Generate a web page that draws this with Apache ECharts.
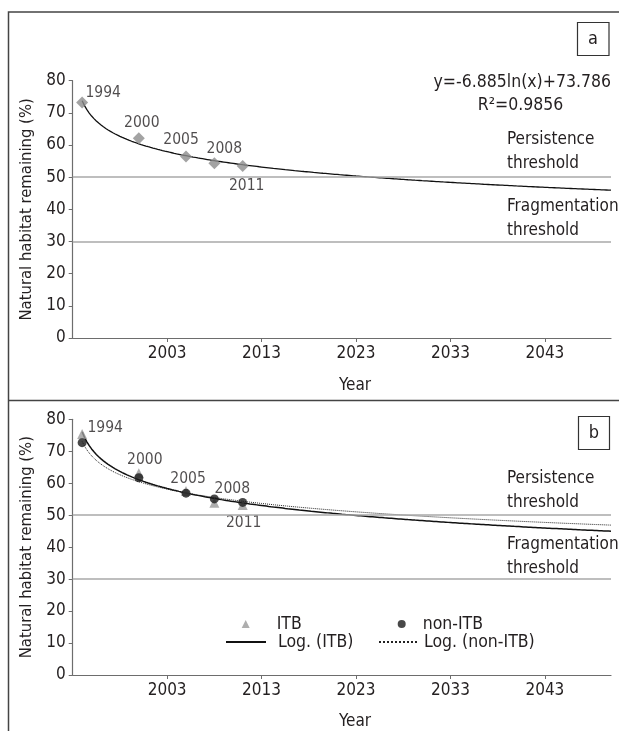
<!DOCTYPE html>
<html><head><meta charset="utf-8">
<script src="https://cdn.jsdelivr.net/npm/echarts@6/dist/echarts.min.js"></script>
<style>html,body{margin:0;padding:0;background:#fff}#c{width:619px;height:731px}</style>
</head><body><div id="c"></div>
<script>
// ---- data ----
const YEARS = [1994, 2000, 2005, 2008, 2011];
const TOTAL_A = [73.2, 62.1, 56.4, 54.3, 53.5];      // panel a
const ITB = [75.4, 63.1, 57.6, 53.9, 53.2];          // panel b, ITB
const NON_ITB = [72.7, 61.7, 56.9, 55.1, 54.0];      // panel b, non-ITB
const THRESHOLDS = [50, 30];
const X_TICKS = [2003, 2013, 2023, 2033, 2043];
const X_MIN = 1993, X_MAX = 2050;                    // trend x = year - X_MIN
const EQ_SLOPE = -6.885, EQ_INTERCEPT = 73.786, EQ_R2 = 0.9856;

// ---- label placement (style, not data) ----
const LABEL_OFF_A = [[21, -10], [3, -15], [-5, -17], [10, -14], [4, 20]];
const LABEL_OFF_B = [[23, -6], [6, -13], [2, -12], [18, -14], [1, 18]];

const FONT = '"DejaVu Sans Condensed","Liberation Sans Narrow",sans-serif';
const TXT = '#231f20';

function logFit(xs, ys) {
  const lx = xs.map(v => Math.log(v - X_MIN));
  const n = lx.length;
  const mx = lx.reduce((a, b) => a + b, 0) / n;
  const my = ys.reduce((a, b) => a + b, 0) / n;
  let sxy = 0, sxx = 0;
  for (let i = 0; i < n; i++) { sxy += (lx[i] - mx) * (ys[i] - my); sxx += (lx[i] - mx) ** 2; }
  const slope = sxy / sxx;
  return { slope, intercept: my - slope * mx };
}
function trendLine(fit) {
  const pts = [];
  for (let yr = YEARS[0]; yr <= X_MAX + 1e-9; yr += 0.25) {
    pts.push([yr, fit.intercept + fit.slope * Math.log(yr - X_MIN)]);
  }
  return pts;
}
const fitA = { slope: EQ_SLOPE, intercept: EQ_INTERCEPT };
const fitITB = logFit(YEARS, ITB);
const fitNon = logFit(YEARS, NON_ITB);

function pointData(vals, offs) {
  return YEARS.map((y, i) => ({ value: [y, vals[i]], label: { offset: offs[i] } }));
}

const grids = [
  { left: 72.7, right: 8, top: 80.7, height: 257.3 },
  { left: 72.7, right: 8, top: 419.3, height: 255.7 }
];
function xAxis(i) {
  return {
    type: 'value', gridIndex: i, min: X_MIN, max: X_MAX,
    axisLine: { show: true, lineStyle: { color: '#6d6d6d', width: 1.2 } },
    axisTick: { show: true, customValues: X_TICKS, length: 4, lineStyle: { color: '#6d6d6d' } },
    axisLabel: { customValues: X_TICKS, formatter: v => String(v), fontFamily: FONT, fontSize: 17, color: TXT, margin: 7 },
    splitLine: { show: false }
  };
}
function yAxis(i) {
  return {
    type: 'value', gridIndex: i, min: 0, max: 80, interval: 10,
    name: 'Natural habitat remaining (%)', nameLocation: 'middle', nameGap: 36,
    nameTextStyle: { fontFamily: FONT, fontSize: 16.5, color: TXT },
    axisLine: { show: true, lineStyle: { color: '#6d6d6d', width: 1.2 } },
    axisTick: { show: true, length: 4, lineStyle: { color: '#6d6d6d' } },
    axisLabel: { fontFamily: FONT, fontSize: 17, color: TXT, margin: 7 },
    splitLine: { show: false }
  };
}
const markThresholds = {
  silent: true, symbol: ['none', 'none'],
  lineStyle: { color: '#a9a9a9', type: 'solid', width: 1.6 },
  label: { show: false },
  data: THRESHOLDS.map(v => ({ yAxis: v }))
};
const ptLabel = {
  show: true, position: 'inside', fontFamily: FONT, fontSize: 15.5, color: TXT,
  textBorderWidth: 0, textBorderColor: 'transparent',
  formatter: p => String(p.value[0])
};
const legText = (pad) => ({ fontFamily: FONT, fontSize: 17.5, color: TXT, lineHeight: 18, padding: [0, 0, 0, pad] });

const option = {
  animation: false,
  backgroundColor: '#fff',
  grid: grids,
  xAxis: [xAxis(0), xAxis(1)],
  yAxis: [yAxis(0), yAxis(1)],
  legend: [
    { data: ['ITB'], left: 241.7, top: 615, padding: 0, itemWidth: 8, itemHeight: 8, selectedMode: false, textStyle: legText(22) },
    { data: ['non-ITB'], left: 397.7, top: 615, padding: 0, itemWidth: 8, itemHeight: 8, selectedMode: false, textStyle: legText(12) },
    { data: ['Log. (ITB)'], left: 225, top: 633, padding: 0, itemWidth: 40, itemHeight: 10, selectedMode: false,
      itemStyle: { opacity: 0 }, textStyle: legText(7) },
    { data: ['Log. (non-ITB)'], left: 378, top: 633, padding: 0, itemWidth: 40, itemHeight: 10, selectedMode: false,
      itemStyle: { opacity: 0 }, textStyle: legText(0) }
  ],
  series: [
    // panel a
    { name: 'Trend a', type: 'line', xAxisIndex: 0, yAxisIndex: 0, data: trendLine(fitA),
      symbol: 'none', lineStyle: { color: '#111', width: 1.3 }, itemStyle: { color: 'rgba(0,0,0,0)' }, z: 2, markLine: markThresholds },
    { name: 'Total', type: 'scatter', xAxisIndex: 0, yAxisIndex: 0, data: pointData(TOTAL_A, LABEL_OFF_A),
      symbol: 'diamond', symbolSize: 12, itemStyle: { color: '#8c8c8c' }, label: ptLabel, z: 3 },
    // panel b
    { name: 'Log. (ITB)', type: 'line', xAxisIndex: 1, yAxisIndex: 1, data: trendLine(fitITB),
      symbol: 'none', lineStyle: { color: '#111', width: 1.5 }, itemStyle: { color: 'rgba(0,0,0,0)' }, z: 2, markLine: markThresholds },
    { name: 'Log. (non-ITB)', type: 'line', xAxisIndex: 1, yAxisIndex: 1, data: trendLine(fitNon),
      symbol: 'none', lineStyle: { color: '#222', width: 1, type: 'dotted' }, itemStyle: { color: 'rgba(0,0,0,0)' }, z: 2 },
    { name: 'ITB', type: 'scatter', xAxisIndex: 1, yAxisIndex: 1, data: pointData(ITB, LABEL_OFF_B),
      symbol: 'triangle', symbolSize: 10, itemStyle: { color: '#9a9a9a' }, label: ptLabel, z: 3 },
    { name: 'non-ITB', type: 'scatter', xAxisIndex: 1, yAxisIndex: 1, data: NON_ITB.map((v, i) => [YEARS[i], v]),
      symbol: 'circle', symbolSize: 9, itemStyle: { color: '#1a1a1a' }, z: 4 }
  ],
  graphic: [
    { type: 'rect', shape: { x: 8.5, y: 12, width: 700, height: 800 }, style: { fill: null, stroke: '#444', lineWidth: 1.5 }, silent: true },
    { type: 'line', shape: { x1: 8.5, y1: 400.5, x2: 619, y2: 400.5 }, style: { stroke: '#444', lineWidth: 1.5 }, silent: true },
    { type: 'rect', shape: { x: 577.5, y: 22.5, width: 31.5, height: 33 }, style: { fill: '#fff', stroke: '#333', lineWidth: 1.2 } },
    { type: 'text', style: { text: 'a', x: 593, y: 39, font: '18px ' + FONT, fill: TXT, textAlign: 'center', textVerticalAlign: 'middle' } },
    { type: 'rect', shape: { x: 578.5, y: 416.5, width: 31, height: 33 }, style: { fill: '#fff', stroke: '#333', lineWidth: 1.2 } },
    { type: 'text', style: { text: 'b', x: 594, y: 433, font: '18px ' + FONT, fill: TXT, textAlign: 'center', textVerticalAlign: 'middle' } },
    { type: 'text', style: { text: 'y=' + EQ_SLOPE + 'ln(x)+' + EQ_INTERCEPT, x: 611, y: 82, font: '17.5px ' + FONT, fill: TXT, textAlign: 'right', textVerticalAlign: 'middle' } },
    { type: 'text', style: { text: 'R\u00b2=' + EQ_R2, x: 520.5, y: 105, font: '17.5px ' + FONT, fill: TXT, textAlign: 'center', textVerticalAlign: 'middle' } },
    { type: 'text', style: { text: 'Persistence\nthreshold', x: 507, y: 152, lineHeight: 24, font: '17px ' + FONT, fill: TXT, textAlign: 'left', textVerticalAlign: 'middle' } },
    { type: 'text', style: { text: 'Fragmentation\nthreshold', x: 507, y: 218.5, lineHeight: 24, font: '17px ' + FONT, fill: TXT, textAlign: 'left', textVerticalAlign: 'middle' } },
    { type: 'text', style: { text: 'Persistence\nthreshold', x: 507, y: 491, lineHeight: 24, font: '17px ' + FONT, fill: TXT, textAlign: 'left', textVerticalAlign: 'middle' } },
    { type: 'text', style: { text: 'Fragmentation\nthreshold', x: 507, y: 556.5, lineHeight: 24, font: '17px ' + FONT, fill: TXT, textAlign: 'left', textVerticalAlign: 'middle' } },
    { type: 'text', style: { text: 'Year', x: 355, y: 386, font: '17px ' + FONT, fill: TXT, textAlign: 'center', textVerticalAlign: 'middle' } },
    { type: 'text', style: { text: 'Year', x: 355, y: 722, font: '17px ' + FONT, fill: TXT, textAlign: 'center', textVerticalAlign: 'middle' } }
  ]
};
const chart = echarts.init(document.getElementById('c'), null, { renderer: 'canvas' });
chart.setOption(option);
</script></body></html>
